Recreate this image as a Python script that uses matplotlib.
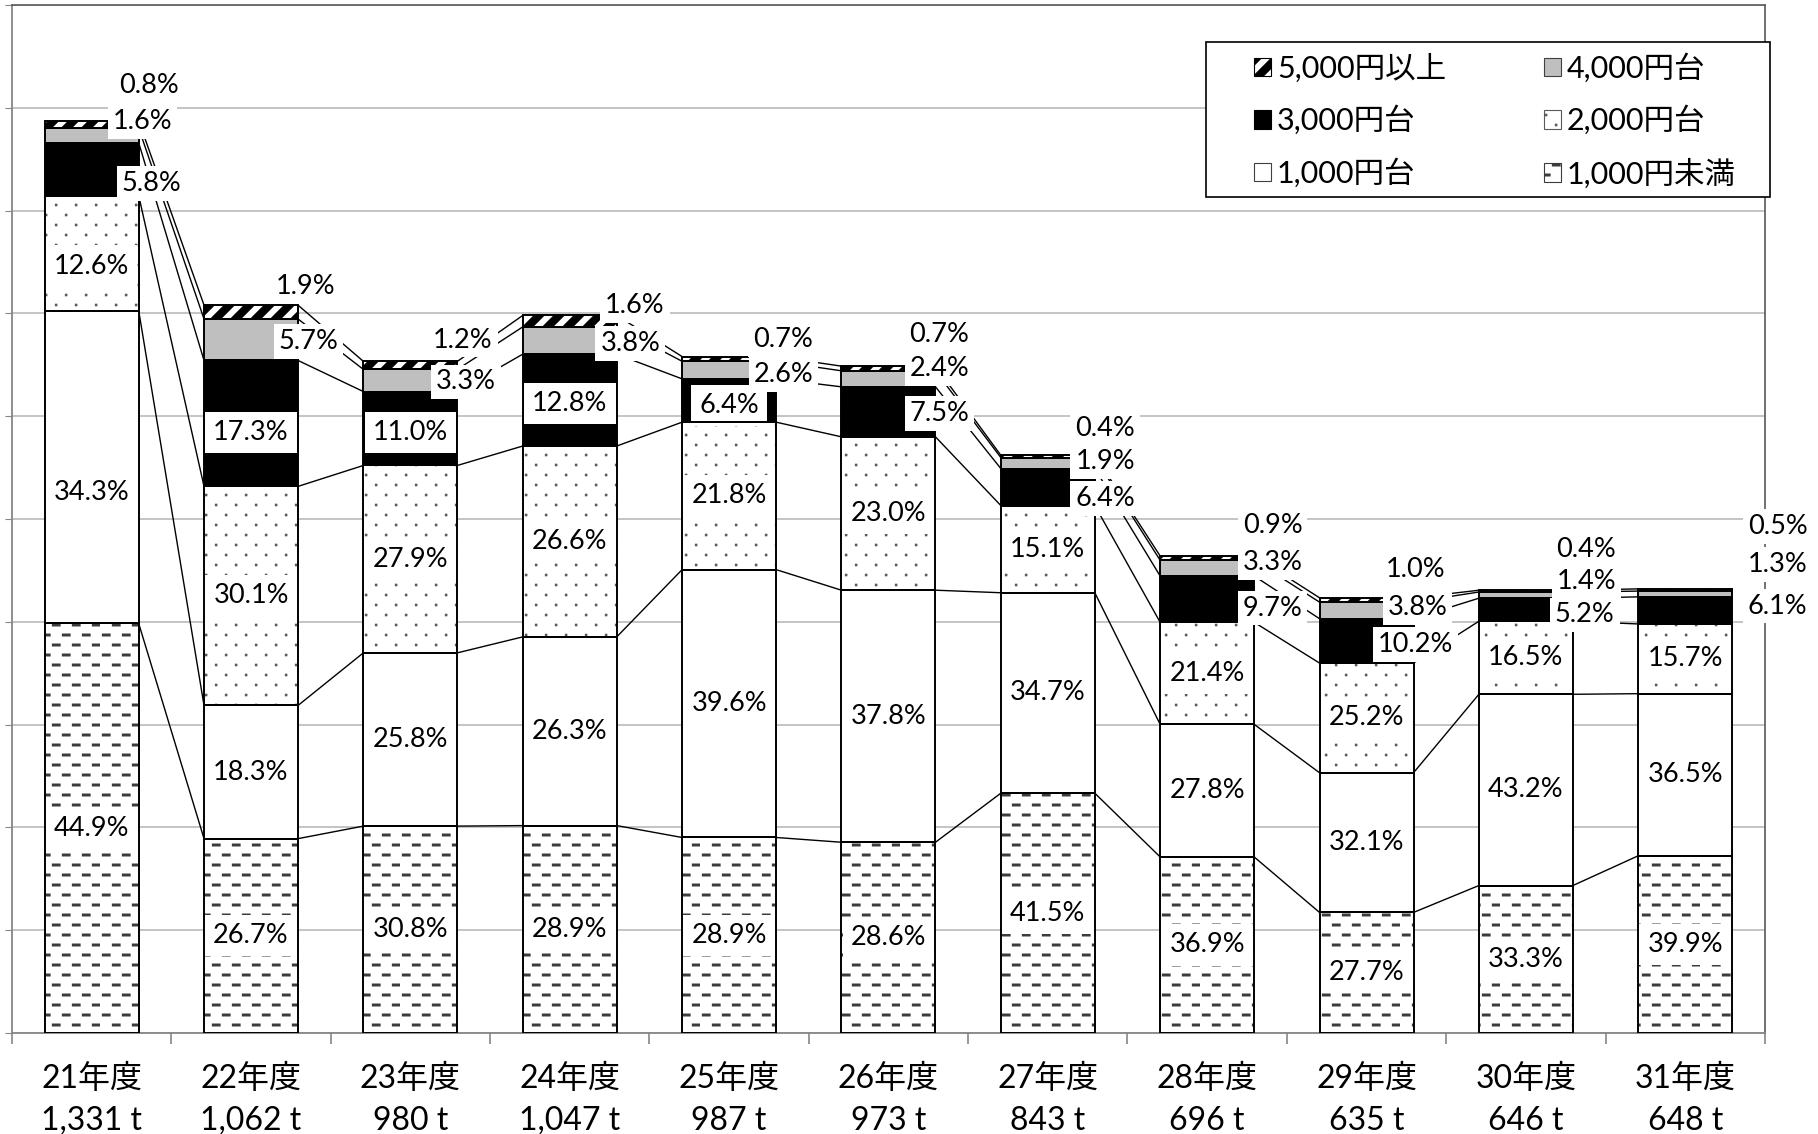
import numpy as np
import matplotlib
matplotlib.use('Agg')
import matplotlib.pyplot as plt
import matplotlib.hatch as mhatch
from matplotlib.path import Path
from matplotlib.patches import Patch, Rectangle

# data
years = ['21年度', '22年度', '23年度', '24年度', '25年度', '26年度',
         '27年度', '28年度', '29年度', '30年度', '31年度']
totals = [1331, 1062, 980, 1047, 987, 973, 843, 696, 635, 646, 648]
series_names = ['1,000円未満', '1,000円台', '2,000円台', '3,000円台', '4,000円台', '5,000円以上']
pct_under1000 = [44.9, 26.7, 30.8, 28.9, 28.9, 28.6, 41.5, 36.9, 27.7, 33.3, 39.9]
pct_1000s = [34.3, 18.3, 25.8, 26.3, 39.6, 37.8, 34.7, 27.8, 32.1, 43.2, 36.5]
pct_2000s = [12.6, 30.1, 27.9, 26.6, 21.8, 23.0, 15.1, 21.4, 25.2, 16.5, 15.7]
pct_3000s = [5.8, 17.3, 11.0, 12.8, 6.4, 7.5, 6.4, 9.7, 10.2, 5.2, 6.1]
pct_4000s = [1.6, 5.7, 3.3, 3.8, 2.6, 2.4, 1.9, 3.3, 3.8, 1.4, 1.3]
pct_5000up = [0.8, 1.9, 1.2, 1.6, 0.7, 0.7, 0.4, 0.9, 1.0, 0.4, 0.5]
pcts = [pct_under1000, pct_1000s, pct_2000s, pct_3000s, pct_4000s, pct_5000up]

# where the small-share labels were dragged to (x offset from bar centre, y in t)
label_pos_3000 = [(0.375, 1240), (0.0, 876), (0.0, 876), (0.0, 919), (0.0, 916), (0.32, 904),
                  (0.36, 780), (0.41, 620), (0.31, 567), (0.37, 610), (0.58, 623)]
label_pos_4000 = [(0.32, 1330), (0.36, 1009), (0.35, 950), (0.38, 1006), (0.34, 961), (0.32, 970),
                  (0.36, 834), (0.41, 686), (0.32, 621), (0.38, 659), (0.58, 684)]
label_pos_5000 = [(0.36, 1383), (0.34, 1089), (0.33, 1011), (0.41, 1062), (0.34, 1012), (0.32, 1019),
                  (0.36, 882), (0.41, 740), (0.31, 676), (0.38, 706), (0.58, 739)]
moved_labels = {(1, 0): 788, (2, 0): 1119}


# Excel-like fill patterns (filled little shapes instead of stroked lines)
class ExcelHatch(mhatch.HatchPatternBase):
    def __init__(self, hatch, density):
        self.shapes = []
        if '-' in hatch:
            for i in range(10):
                y = (i + 0.5) / 10
                off = 0.1 if i % 2 else 0.0
                for j in range(5):
                    x0 = j / 5 + off + 0.02
                    self.shapes.append([(x0, y - 0.013), (x0 + 0.085, y - 0.013),
                                        (x0 + 0.085, y + 0.013), (x0, y + 0.013)])
        if '.' in hatch:
            for i in range(10):
                y = (i + 0.5) / 10
                off = 0.1 if i % 2 else 0.0
                for j in range(5):
                    x0 = j / 5 + off + 0.05
                    self.shapes.append([(x0, y - 0.011), (x0 + 0.022, y - 0.011),
                                        (x0 + 0.022, y + 0.011), (x0, y + 0.011)])
        if '/' in hatch:
            n, w = 5, 0.11
            for k in range(-n - 1, n + 1):
                c = k / n
                self.shapes.append([(0, c), (1, 1 + c), (1, 1 + c + w), (0, c + w)])
        self.num_vertices = 5 * len(self.shapes)

    def set_vertices_and_codes(self, vertices, codes):
        for s, shp in enumerate(self.shapes):
            vertices[5 * s:5 * s + 4] = shp
            vertices[5 * s + 4] = shp[0]
            codes[5 * s] = Path.MOVETO
            codes[5 * s + 1:5 * s + 4] = Path.LINETO
            codes[5 * s + 4] = Path.CLOSEPOLY


mhatch._hatch_types = [ExcelHatch]

plt.rcParams['font.family'] = ['Lato', 'Noto Sans CJK JP']
plt.rcParams['hatch.linewidth'] = 0.2
FS = 19.5

fig = plt.figure(figsize=(18.18, 11.34), dpi=100)
ax = fig.add_axes([0.0066, 0.0891, 0.9642, 0.9065])

x = np.arange(len(years))
tons = np.array([np.array(totals) * np.array(p) / 100 for p in pcts])
tops = np.cumsum(tons, axis=0)
bottoms = tops - tons
width = 0.59

styles = [
    dict(fc='white', hc='#3c3c3c', hatch='-'),
    dict(fc='white', hc='#404040', hatch=None),
    dict(fc='white', hc='#5a5a5a', hatch='.'),
    dict(fc='black', hc='black', hatch=None),
    dict(fc='#bfbfbf', hc='#404040', hatch=None),
    dict(fc='white', hc='black', hatch='/'),
]

for k, st in enumerate(styles):
    ax.bar(x, tons[k], width, bottom=bottoms[k], color=st['fc'], edgecolor=st['hc'],
           linewidth=0, hatch=st['hatch'], zorder=3)
    # outlines go over the in-bar label boxes
    ax.bar(x, tons[k], width, bottom=bottoms[k], fill=False, edgecolor='black',
           linewidth=1.4, zorder=7)
    # series lines between neighbouring bars
    for i in range(len(x) - 1):
        ax.plot([x[i] + width / 2, x[i + 1] - width / 2], [tops[k][i], tops[k][i + 1]],
                color='black', lw=1.0, zorder=2)

box_in = dict(boxstyle='square,pad=0.3', fc='white', ec='none')
box_out = dict(boxstyle='square,pad=0.18', fc='white', ec='none')
for k in range(3):
    for i in range(len(x)):
        y = moved_labels.get((k, i), bottoms[k][i] + tons[k][i] / 2)
        ax.text(x[i], y, f'{pcts[k][i]:.1f}%', ha='center', va='center',
                fontsize=FS, bbox=box_in, zorder=6)
for k, pos in zip([3, 4, 5], [label_pos_3000, label_pos_4000, label_pos_5000]):
    for i, (dx, y) in enumerate(pos):
        ax.text(x[i] + dx, y, f'{pcts[k][i]:.1f}%', ha='center', va='center',
                fontsize=FS, bbox=box_in if dx == 0 else box_out,
                zorder=6 if dx == 0 else 8, clip_on=False)

ax.set_xlim(-0.5, len(x) - 0.5)
ax.set_ylim(0, 1500)
ax.set_yticks(np.arange(0, 1501, 150))
ax.yaxis.grid(True, color='#bfbfbf', lw=1.3)
ax.set_axisbelow(True)
ax.tick_params(axis='y', labelleft=False, length=5, color='#868686')
ax.set_xticks(x, labels=[f'{yr}\n{t:,} t' for yr, t in zip(years, totals)])
ax.set_xticks(np.arange(-0.5, len(x)), minor=True)
ax.tick_params(axis='x', which='major', length=0, pad=22, labelsize=23)
ax.tick_params(axis='x', which='minor', length=8, color='#868686', width=1.2)
for t in ax.get_xticklabels():
    t.set_linespacing(1.5)
for side in ['left', 'bottom']:
    ax.spines[side].set_color('#868686')
    ax.spines[side].set_linewidth(1.3)
for side in ['top', 'right']:
    ax.spines[side].set_color('#595959')
    ax.spines[side].set_linewidth(1.2)

# legend: row order as in the source (5000, 4000 / 3000, 2000 / 1000台, 1000未満)
order = [5, 3, 1, 4, 2, 0]
handles = [Patch(facecolor=styles[k]['fc'], edgecolor=styles[k]['hc'], hatch=styles[k]['hatch'],
                 linewidth=0.8) for k in order]
fig.add_artist(Rectangle((1206 / 1818, 1 - 197 / 1134), (1770 - 1206) / 1818, (197 - 42) / 1134,
                         transform=fig.transFigure, facecolor='white', edgecolor='black', lw=1.2))
fig.legend(handles, [series_names[k] for k in order], ncol=2, loc='upper left',
           bbox_to_anchor=(1254 / 1818, 1 - 53 / 1134), frameon=False, fontsize=22,
           handlelength=0.55, handleheight=0.55, handletextpad=0.2, columnspacing=3.2,
           labelspacing=0.75, borderaxespad=0, borderpad=0)

fig.savefig('out.png', dpi=100)
